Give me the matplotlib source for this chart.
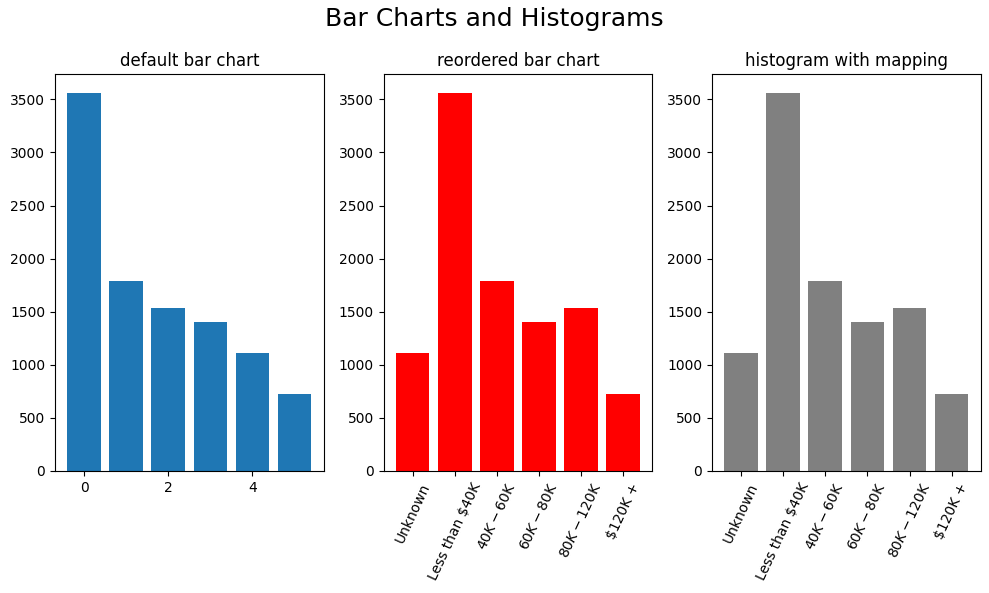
import numpy as np
import matplotlib
matplotlib.use("Agg")
import matplotlib.pyplot as plt

# income category counts, in value_counts order and in natural order
counts_sorted = [3561, 1790, 1535, 1402, 1112, 727]
categories = ["Unknown", "Less than $40K", "$40K - $60K", "$60K - $80K",
              "$80K - $120K", "$120K +"]
counts_ordered = [1112, 3561, 1790, 1402, 1535, 727]

W, H = 989, 593
fig, axes = plt.subplots(1, 3, figsize=(W / 100, H / 100), dpi=100)
fig.suptitle("Bar Charts and Histograms", fontsize=18, y=1 - 7 / H)

axes[0].bar(np.arange(len(counts_sorted)), counts_sorted)
axes[0].set_title("default bar chart")

axes[1].bar(categories, counts_ordered, color="red")
axes[1].set_title("reordered bar chart")
axes[1].tick_params(axis="x", labelrotation=65)

axes[2].bar(categories, counts_ordered, color="grey")
axes[2].set_title("histogram with mapping")
axes[2].tick_params(axis="x", labelrotation=65)

fig.subplots_adjust(left=55 / W, right=980.7 / W, top=1 - 74 / H,
                    bottom=1 - 471 / H, wspace=0.223)
fig.savefig("out.png")
